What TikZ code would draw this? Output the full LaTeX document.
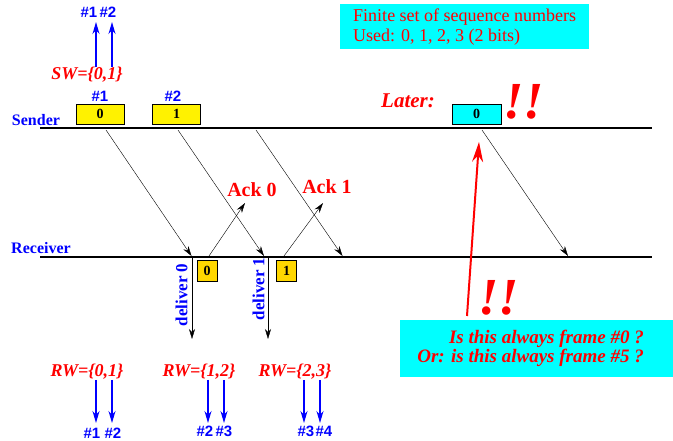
\documentclass[tikz,border=0pt]{standalone}
\usepackage{fontspec}
\setmainfont{Liberation Serif}
\newfontfamily\hashfont{Liberation Sans}
\usetikzlibrary{arrows.meta}
\definecolor{gold}{RGB}{255,215,0}
\definecolor{aqua}{RGB}{0,255,255}
\begin{document}
\begin{tikzpicture}[x=1pt,y=-1pt,
  wire/.style={line width=2pt},
  msg/.style={-{Stealth[length=10pt,width=6pt]}},
  seq/.style={blue,line width=1.3pt,-{Stealth[length=12pt,width=7pt]}},
  sbox/.style={draw,fill=yellow,minimum width=48pt,minimum height=20pt,inner sep=0pt,font=\bfseries\fontsize{14}{14}\selectfont},
  rbox/.style={draw,fill=gold,minimum width=20pt,minimum height=21pt,inner sep=0pt,font=\bfseries\fontsize{14}{14}\selectfont},
  side/.style={blue,inner sep=0pt,font=\bfseries\fontsize{16}{16}\selectfont},
  num/.style={blue,inner sep=0pt,font=\hashfont\bfseries\fontsize{15}{15}\selectfont},
  win/.style={red,inner sep=0pt,font=\bfseries\itshape\fontsize{18}{18}\selectfont},
  ack/.style={red,inner sep=0pt,font=\bfseries\fontsize{20}{20}\selectfont},
  dlv/.style={blue,inner sep=0pt,rotate=90,font=\bfseries\fontsize{17}{17}\selectfont},
  bang/.style={red,inner sep=0pt,font=\bfseries\itshape\fontsize{52}{52}\selectfont}]
\useasboundingbox (0,0) rectangle (673,441);
% time lines
\node[side] (snd) at (36,120) {Sender}; \node[side] (rcv) at (41,248) {Receiver};
\coordinate (sa) at (40,128); \coordinate (sb) at (652,128); \draw[wire] (sa) -- (sb);
\coordinate (ra) at (40,257); \coordinate (rb) at (652,257); \draw[wire] (ra) -- (rb);
% sender side
\node[sbox] (f0) at (100,114) {0}; \node[sbox] (f1) at (176.5,114) {1};
\node[num] (n1) at (100,96) {\#1}; \node[num] (n2) at (173,96) {\#2};
\node[win] (sw) at (87,75) {SW=\{0,1\}};
\coordinate (t1) at (96,22); \coordinate (t2) at (112,22);
\draw[seq] (t1 |- sw.north) -- (t1); \draw[seq] (t2 |- sw.north) -- (t2);
\node[num] (k1) at (89,12) {\#1}; \node[num] (k2) at (108,12) {\#2};
\node[fill=aqua,text=red,anchor=north west,minimum width=249pt,inner sep=0pt,minimum height=45pt,align=left,font=\fontsize{18}{20}\selectfont] (info) at (340,4) {Finite set of sequence numbers\\Used: 0, 1, 2, 3 (2 bits)};
\node[red,inner sep=0pt,font=\bfseries\itshape\fontsize{21}{21}\selectfont] (later) at (408,101) {Later:};
\node[sbox,fill=aqua,minimum width=49pt] (f4) at (476.5,114) {0};
\node[bang] (bg1) at (523.5,102) {!!};
% frames and acks
\coordinate (s0) at (106,130); \coordinate (r0) at (191.5,256); \draw[msg] (s0) -- (r0);
\coordinate (s1) at (178,130); \coordinate (r1) at (264,256); \draw[msg] (s1) -- (r1);
\coordinate (s2) at (256,130); \coordinate (r2) at (342.5,256); \draw[msg] (s2) -- (r2);
\coordinate (s4) at (482,130); \coordinate (r4) at (568,256); \draw[msg] (s4) -- (r4);
\coordinate (a0) at (209,256); \coordinate (c0) at (245,203); \draw[msg] (a0) -- (c0);
\coordinate (a1) at (284,256); \coordinate (c1) at (323,203); \draw[msg] (a1) -- (c1);
\node[ack] (ack0) at (252,190) {Ack 0}; \node[ack] (ack1) at (327,187) {Ack 1};
% receiver side
\node[rbox] (g0) at (207,270.5) {0}; \node[rbox] (g1) at (286.5,270.5) {1};
\coordinate (d0) at (192,258); \coordinate (e0) at (192,339); \draw[msg] (d0) -- (e0);
\coordinate (d1) at (268,258); \coordinate (e1) at (268,339); \draw[msg] (d1) -- (e1);
\node[dlv] (dl0) at (181.5,295) {deliver 0}; \node[dlv] (dl1) at (258.5,289) {deliver 1};
\node[win] (rw0) at (87,372) {RW=\{0,1\}};
\node[win] (rw1) at (199,372) {RW=\{1,2\}};
\node[win] (rw2) at (295,372) {RW=\{2,3\}};
\coordinate (b1) at (96,423); \coordinate (b2) at (112,423);
\coordinate (b3) at (208,423); \coordinate (b4) at (224,423);
\coordinate (b5) at (304,423); \coordinate (b6) at (320,423);
\draw[seq] (b1 |- rw0.south) -- (b1); \draw[seq] (b2 |- rw0.south) -- (b2);
\draw[seq] (b3 |- rw1.south) -- (b3); \draw[seq] (b4 |- rw1.south) -- (b4);
\draw[seq] (b5 |- rw2.south) -- (b5); \draw[seq] (b6 |- rw2.south) -- (b6);
\node[num] (m1) at (92,433) {\#1}; \node[num] (m2) at (113,433) {\#2};
\node[num] (m3) at (205,431) {\#2}; \node[num] (m4) at (224,431) {\#3};
\node[num] (m5) at (306,431) {\#3}; \node[num] (m6) at (324,431) {\#4};
% the question
\node[fill=aqua,minimum width=273pt,minimum height=57pt,anchor=north west,inner sep=0pt] (qbox) at (400,320) {};
\node[red,anchor=east,align=right,inner sep=0pt,font=\bfseries\itshape\fontsize{19}{19}\selectfont] (q) at (644,348.5) {Is this always frame \#0 ?\\Or: is this always frame \#5 ?};
\coordinate (qa) at (467,316); \coordinate (qb) at (479,142);
\draw[red,line width=2pt,-{Stealth[length=20pt,width=11pt]}] (qa) -- (qb);
\node[bang] (bg2) at (499,297.5) {!!};
\end{tikzpicture}
\end{document}
